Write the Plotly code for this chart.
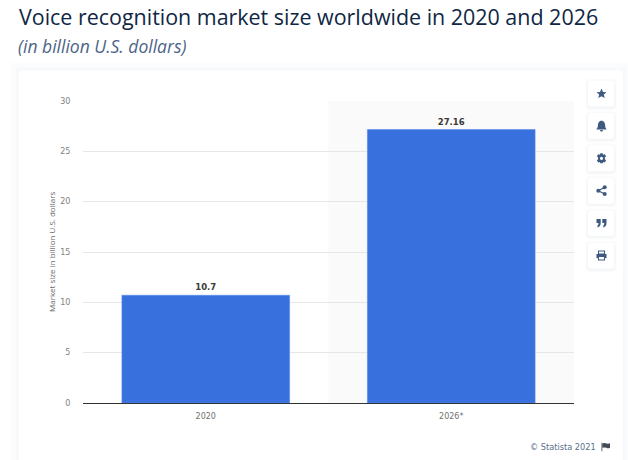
import plotly.graph_objects as go

categories = ["2020", "2026*"]
values = [10.7, 27.16]
value_labels = ["10.7", "27.16"]
y_ticks = [0, 5, 10, 15, 20, 25, 30]

W, H = 628, 460
L, R, T, B = 83, 574, 100.5, 403.5


def px(x):
    return (x - L) / (R - L)


def py(y):
    return (B - y) / (B - T)


def rect(x0, y0, x1, y1, fill, layer="below", r=0):
    if r:
        d = (f"M{x0+r},{y0} L{x1-r},{y0} Q{x1},{y0} {x1},{y0+r} L{x1},{y1-r} Q{x1},{y1} {x1-r},{y1} "
             f"L{x0+r},{y1} Q{x0},{y1} {x0},{y1-r} L{x0},{y0+r} Q{x0},{y0} {x0+r},{y0} Z")
        return pixel_path(d, fill, layer)
    return dict(type="rect", xref="paper", yref="paper", x0=px(x0), x1=px(x1), y0=py(y1), y1=py(y0),
                fillcolor=fill, line_width=0, layer=layer)


def pixel_path(d, fill, layer="above"):
    # d is written in page pixels; converted to plot-area fractions
    out = []
    for tok in d.replace(",", " ").split():
        cmd = ""
        if tok[0].isalpha():
            cmd, tok = tok[0], tok[1:]
            out.append(cmd)
            if not tok:
                continue
        out.append(float(tok))
    s, isx = "", True
    for t in out:
        if isinstance(t, str):
            s += t
            isx = True
        else:
            s += (f"{px(t):.5f} " if isx else f"{py(t):.5f} ")
            isx = not isx
    return dict(type="path", xref="paper", yref="paper", path=s, fillcolor=fill, line_width=0, layer=layer)


shapes = []
# card with soft shadow
for i, c in enumerate(["#fdfdfe", "#fbfcfd", "#f8f9fb"]):
    g = 9 - 3 * i
    shapes.append(rect(19 - g, 70 - g, 623 + g, 470, c))
shapes.append(rect(19, 70, 623, 470, "#ffffff", r=3))
# highlighted forecast band
shapes.append(dict(type="rect", xref="x", yref="paper", x0=0.5, x1=1.5, y0=0, y1=1,
                   fillcolor="#fafafa", line_width=0, layer="below"))

ICON = "#3f5a80"
button_y = [80, 112.5, 145, 177.5, 210, 242.5]
for by in button_y:
    for g, c in [(2.5, "#fafbfc"), (1.2, "#f5f6f8")]:
        shapes.append(rect(588 - g, by - g + 1, 614 + g, by + 26 + g + 1, c, r=4))
    shapes.append(rect(588, by, 614, by + 26, "#ffffff", r=3))

cx = 601.5
# star
cy = button_y[0] + 13
shapes.append(pixel_path(f"M{cx},{cy-5} L{cx+1.5},{cy-1.6} L{cx+5},{cy-1.4} L{cx+2.3},{cy+1} L{cx+3.2},{cy+4.6} "
                         f"L{cx},{cy+2.7} L{cx-3.2},{cy+4.6} L{cx-2.3},{cy+1} L{cx-5},{cy-1.4} L{cx-1.5},{cy-1.6} Z", ICON))
# bell
cy = button_y[1] + 13
shapes.append(pixel_path(f"M{cx-0.9},{cy-5.2} L{cx+0.9},{cy-5.2} Q{cx+3.6},{cy-4} {cx+3.6},{cy-0.5} "
                         f"Q{cx+3.7},{cy+1.8} {cx+5},{cy+3} L{cx+5},{cy+3.6} L{cx-5},{cy+3.6} L{cx-5},{cy+3} "
                         f"Q{cx-3.7},{cy+1.8} {cx-3.6},{cy-0.5} Q{cx-3.6},{cy-4} {cx-0.9},{cy-5.2} Z", ICON))
shapes.append(pixel_path(f"M{cx-1.6},{cy+4.2} L{cx+1.6},{cy+4.2} L{cx+0.8},{cy+5.5} L{cx-0.8},{cy+5.5} Z", ICON))
# gear
cy = button_y[2] + 13
shapes.append(pixel_path(f"M{cx-1.2},{cy-5} L{cx+1.2},{cy-5} L{cx+1.5},{cy-3.6} L{cx+3.3},{cy-4.1} L{cx+4.6},{cy-2} "
                         f"L{cx+3.4},{cy-0.9} L{cx+3.4},{cy+0.9} L{cx+4.6},{cy+2} L{cx+3.3},{cy+4.1} L{cx+1.5},{cy+3.6} "
                         f"L{cx+1.2},{cy+5} L{cx-1.2},{cy+5} L{cx-1.5},{cy+3.6} L{cx-3.3},{cy+4.1} L{cx-4.6},{cy+2} "
                         f"L{cx-3.4},{cy+0.9} L{cx-3.4},{cy-0.9} L{cx-4.6},{cy-2} L{cx-3.3},{cy-4.1} L{cx-1.5},{cy-3.6} Z", ICON))
shapes.append(dict(type="circle", xref="paper", yref="paper", x0=px(cx - 1.6), x1=px(cx + 1.6),
                   y0=py(cy + 1.6), y1=py(cy - 1.6), fillcolor="#ffffff", line_width=0, layer="above"))
# share
cy = button_y[3] + 13
for dx, dy in [(3.2, -3.4), (3.2, 3.4), (-3.2, 0)]:
    shapes.append(dict(type="circle", xref="paper", yref="paper", x0=px(cx + dx - 2), x1=px(cx + dx + 2),
                       y0=py(cy + dy + 2), y1=py(cy + dy - 2), fillcolor=ICON, line_width=0, layer="above"))
shapes.append(dict(type="path", xref="paper", yref="paper",
                   path=f"M{px(cx+3.2):.5f} {py(cy-3.4):.5f} L{px(cx-3.2):.5f} {py(cy):.5f} L{px(cx+3.2):.5f} {py(cy+3.4):.5f}",
                   line=dict(color=ICON, width=1.2), layer="above"))
# quote
cy = button_y[4] + 13
for dx in (-5, 0.8):
    shapes.append(pixel_path(f"M{cx+dx},{cy-4} L{cx+dx+4.2},{cy-4} L{cx+dx+4.2},{cy} Q{cx+dx+4.2},{cy+3.5} {cx+dx+1.2},{cy+4.5} "
                             f"L{cx+dx+0.8},{cy+3} Q{cx+dx+2},{cy+2} {cx+dx+2},{cy} L{cx+dx},{cy} Z", ICON))
# print
cy = button_y[5] + 13
shapes.append(pixel_path(f"M{cx-5},{cy-1.5} L{cx+5},{cy-1.5} L{cx+5},{cy+2.6} L{cx-5},{cy+2.6} Z", ICON))
shapes.append(dict(type="rect", xref="paper", yref="paper", x0=px(cx - 3), x1=px(cx + 3), y0=py(cy - 1.5), y1=py(cy - 4.5),
                   fillcolor="#ffffff", line=dict(color=ICON, width=1.1), layer="above"))
shapes.append(dict(type="rect", xref="paper", yref="paper", x0=px(cx - 3), x1=px(cx + 3), y0=py(cy + 4.5), y1=py(cy + 1),
                   fillcolor="#ffffff", line=dict(color=ICON, width=1.1), layer="above"))
# flag
shapes.append(pixel_path("M601.5,443.5 L602.3,443.5 L602.3,452 L601.5,452 Z", "#444a55"))
shapes.append(pixel_path("M602.3,444 Q605,443 606.5,444.2 Q608.5,444.8 610,444 L610,448.5 Q608,449.5 606.5,448.5 Q604,447.7 602.3,448.5 Z", "#444a55"))

fig = go.Figure(go.Bar(
    x=[0, 1], y=values, width=0.683,
    marker=dict(color="#3871dd", line=dict(color="#5a8aea", width=0.6)),
    text=value_labels, textposition="outside", cliponaxis=False,
    textfont=dict(family="DejaVu Sans", size=8.5, color="#3a3a3a", weight="bold"),
    hoverinfo="skip",
))


def page_text(x, y, text, size, color, xanchor="left", family="Open Sans", **kw):
    return dict(xref="paper", yref="paper", x=px(x), y=py(y), text=text, showarrow=False,
                xanchor=xanchor, yanchor="middle", font=dict(family=family, size=size, color=color), **kw)


annotations = [
    page_text(17, 16, "Voice recognition market size worldwide in 2020 and 2026", 21.45, "#0f2744"),
    page_text(16, 45, "<i>(in billion U.S. dollars)</i>", 17.5, "#4c6488"),
    page_text(598, 447.5, "© Statista 2021", 8.2, "#5a6f8c", xanchor="right", family="DejaVu Sans"),
    page_text(51, 252, "Market size in billion U.S. dollars", 8, "#666666", xanchor="center", textangle=-90),
]

fig.update_layout(
    width=W, height=H, autosize=False,
    margin=dict(l=L, r=W - R, t=T, b=H - B, pad=0),
    paper_bgcolor="#ffffff", plot_bgcolor="rgba(0,0,0,0)",
    showlegend=False, shapes=shapes, annotations=annotations,
    bargap=0.317,
    xaxis=dict(range=[-0.5, 1.5], tickmode="array", tickvals=[0, 1], ticktext=categories,
               showgrid=False, zeroline=False, showline=True, linecolor="#333333", linewidth=1,
               ticks="outside", ticklen=5, tickcolor="rgba(0,0,0,0)",
               tickfont=dict(family="DejaVu Sans", size=8, color="#707070")),
    yaxis=dict(range=[0, 30], tickmode="array", tickvals=y_ticks, showgrid=True, gridcolor="#e6e6e6", gridwidth=1,
               zeroline=False, showline=False, ticks="outside", ticklen=10, tickcolor="rgba(0,0,0,0)",
               tickfont=dict(family="DejaVu Sans", size=8, color="#808080")),
)

fig.write_html("out.html", config=dict(displayModeBar=False),
               post_script="document.body.style.margin='0';")
